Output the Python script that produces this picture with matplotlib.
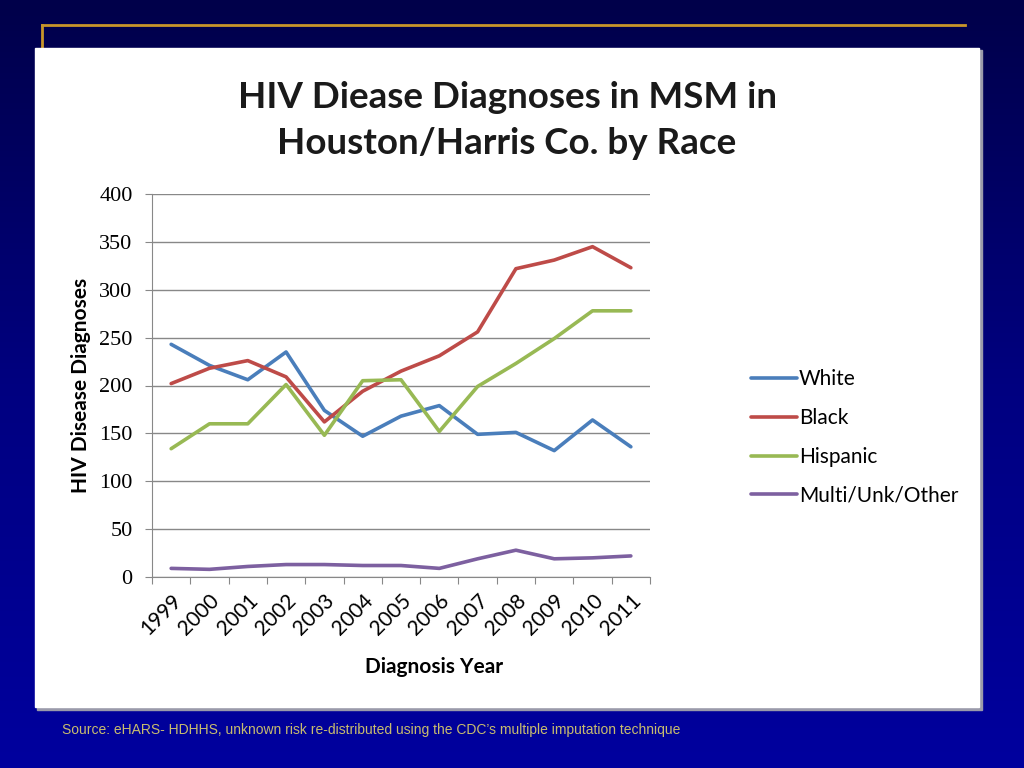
import numpy as np
import matplotlib.pyplot as plt
from matplotlib.patches import Rectangle
from matplotlib.lines import Line2D
from matplotlib.colors import LinearSegmentedColormap

years = ['1999', '2000', '2001', '2002', '2003', '2004', '2005',
         '2006', '2007', '2008', '2009', '2010', '2011']
white = [243, 221, 206, 235, 174, 147, 168, 179, 149, 151, 132, 164, 136]
black = [202, 218, 226, 209, 162, 194, 215, 231, 256, 322, 331, 345, 323]
hispanic = [134, 160, 160, 201, 148, 205, 206, 152, 199, 223, 249, 278, 278]
multi = [9, 8, 11, 13, 13, 12, 12, 9, 19, 28, 19, 20, 22]

series = [('White', white, '#4A7EBB'),
          ('Black', black, '#BE4B48'),
          ('Hispanic', hispanic, '#98B954'),
          ('Multi/Unk/Other', multi, '#7D60A0')]

W, H = 1024, 768
fig = plt.figure(figsize=(W / 100, H / 100), dpi=100)

# slide background: dark navy to blue gradient
bg = fig.add_axes([0, 0, 1, 1])
grad = np.linspace(0, 1, 256).reshape(-1, 1)
cmap = LinearSegmentedColormap.from_list('slide', ['#00004A', '#000080', '#00009E'])
bg.imshow(grad, aspect='auto', cmap=cmap, extent=[0, W, H, 0])
bg.set_xlim(0, W)
bg.set_ylim(H, 0)
bg.axis('off')

# gold rule at top
bg.add_line(Line2D([42, 965], [25, 25], color='#C8962A', lw=2))
bg.add_line(Line2D([42, 42], [25, 48], color='#C8962A', lw=2))

# white chart panel with a slight shadow
bg.add_patch(Rectangle((37, 50), 945, 660, color='#9A9AAA', zorder=2))
bg.add_patch(Rectangle((35, 48), 944, 659, color='white', zorder=3))

bg.text(507, 97, 'HIV Diease Diagnoses in MSM in', ha='center', va='center',
        fontsize=26.5, fontweight='bold', family='Lato', color='#1a1a1a', zorder=4)
bg.text(507, 143, 'Houston/Harris Co. by Race', ha='center', va='center',
        fontsize=26.5, fontweight='bold', family='Lato', color='#1a1a1a', zorder=4)

bg.text(62, 730, "Source: eHARS- HDHHS, unknown risk re-distributed using the CDC\u2019s multiple imputation technique",
        ha='left', va='center', fontsize=10, family='Liberation Sans', color='#C8BC6E', zorder=4)

ax = fig.add_axes([152 / W, 1 - 577 / H, (650 - 152) / W, (577 - 194) / H])
ax.set_zorder(5)
ax.patch.set_alpha(0)
x = np.arange(len(years))
for name, vals, col in series:
    ax.plot(x, vals, color=col, lw=2.6, label=name, solid_capstyle='round')

ax.set_xlim(-0.5, len(years) - 0.5)
ax.set_ylim(0, 400)
ax.set_yticks(range(0, 401, 50))
ax.yaxis.grid(True, color='#888888', lw=1)
ax.set_axisbelow(True)
ax.set_xticks(np.arange(-0.5, len(years), 1), minor=False)
ax.set_xticklabels([])
ax.set_xticks(x, minor=True)
ax.set_xticklabels(years, minor=True, rotation=45, ha='right', va='top',
                   rotation_mode='anchor', fontsize=15, family='Lato')
ax.tick_params(axis='x', which='minor', length=0, pad=10)
ax.tick_params(axis='x', which='major', length=5, color='#888888', direction='out')
ax.tick_params(axis='y', length=5, color='#888888', labelsize=16, pad=9)
for lab in ax.get_yticklabels():
    lab.set_family('Liberation Serif')
for s in ['top', 'right']:
    ax.spines[s].set_visible(False)
for s in ['left', 'bottom']:
    ax.spines[s].set_color('#888888')

ax.set_ylabel('HIV Disease Diagnoses', fontsize=15, fontweight='bold', family='Lato', labelpad=6)
ax.set_xlabel('Diagnosis Year', fontsize=15, fontweight='bold', family='Lato')
ax.xaxis.set_label_coords((434 - 152) / 498, -0.21)

leg = ax.legend(loc='center left', bbox_to_anchor=(1.165, 0.364), frameon=False,
                handlelength=2.2, handletextpad=0.1, labelspacing=0.9,
                prop={'family': 'Lato', 'size': 15})

fig.savefig('out.png', dpi=100)
